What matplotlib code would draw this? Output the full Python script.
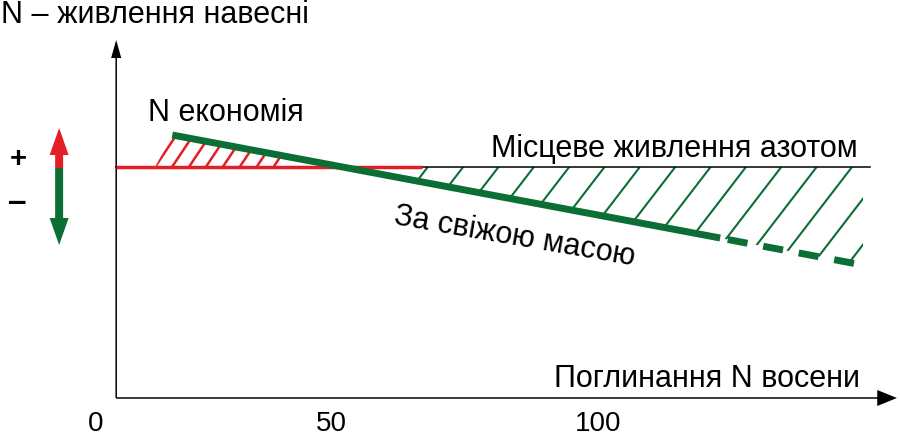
import numpy as np
import matplotlib
matplotlib.use('Agg')
import matplotlib.pyplot as plt
from matplotlib.patches import Polygon, FancyArrow

plt.rcParams['font.family'] = ['Liberation Sans', 'DejaVu Sans']

# schematic values (x: N uptake in autumn, y: N supply in spring, 0 = local supply)
fresh_x = [15.3, 123.8, 125.3, 150.9]      # "За свіжою масою" line
fresh_y = [3.2, -7.1, -7.25, -9.7]
local_x = [4.2, 153.5]                     # "Місцеве живлення азотом"
local_y = [0.0, 0.0]
red_end = 64.75                            # end of the red part of the local line
tick_labels = ['0', '50', '100']
tick_pos = [0.1, 46.9, 99.6]

GREEN = '#0b6e35'
RED = '#e31e24'


def main():
    fig = plt.figure(figsize=(9, 4.37), dpi=100)
    ax = fig.add_axes([0, 0, 1, 1])
    ax.set_xlim(-18.81, 159.41)
    ax.set_ylim(-27.0, 16.7)
    ax.axis('off')

    # axes arrows
    x0, y0 = local_x[0], -23.1
    ax.add_patch(FancyArrow(x0, y0, 0, 35.8, width=0.3, head_width=2.0,
                            head_length=1.8, length_includes_head=True,
                            color='black', lw=0))
    ax.add_patch(FancyArrow(x0, y0, 154.6, 0, width=0.15, head_width=1.6,
                            head_length=3.9, length_includes_head=True,
                            color='black', lw=0))

    # crossing of the fresh-mass line with the local line
    slope = (fresh_y[1] - fresh_y[0]) / (fresh_x[1] - fresh_x[0])
    x_cross = fresh_x[0] - fresh_y[0] / slope

    # red hatching (N economy)
    red_clip = Polygon([(11.9, 0), (x_cross, 0), (fresh_x[0], fresh_y[0])],
                       closed=True, transform=ax.transData)
    s_red = 0.7575
    for b in np.arange(11.9, 36.0, 3.35):
        ln, = ax.plot([b, b + 8], [0, 8 * s_red], color=RED, lw=1.8,
                      solid_capstyle='butt', zorder=2)
        ln.set_clip_path(red_clip)

    # green hatching
    x_r = 152.1
    y_r = fresh_y[0] + slope * (x_r - fresh_x[0])
    green_clip = Polygon([(x_cross, 0), (x_r, 0), (x_r, y_r)],
                         closed=True, transform=ax.transData)
    s_gr = 0.657
    for t in np.arange(65.9, 175.0, 7.0):
        ln, = ax.plot([t - 30, t], [-30 * s_gr, 0], color=GREEN, lw=1.5,
                      solid_capstyle='butt', zorder=2)
        ln.set_clip_path(green_clip)

    # local supply line
    ax.plot(local_x, local_y, color='black', lw=1.1, zorder=3)
    ax.plot([local_x[0], red_end], local_y, color=RED, lw=2.5,
            solid_capstyle='butt', zorder=4)

    # fresh mass line
    ax.plot(fresh_x[:2], fresh_y[:2], color=GREEN, lw=5,
            solid_capstyle='butt', zorder=5)
    ax.plot(fresh_x[2:], fresh_y[2:], color=GREEN, lw=5,
            linestyle=(0, (2.9, 2.3)), dash_capstyle='butt', zorder=5)

    # +/- double arrow
    ax.add_patch(FancyArrow(-7.1, -0.1, 0, 4.0, width=1.58, head_width=3.76,
                            head_length=2.7, length_includes_head=True,
                            color=RED, lw=0))
    ax.add_patch(FancyArrow(-7.1, -0.1, 0, -7.7, width=1.58, head_width=3.76,
                            head_length=2.7, length_includes_head=True,
                            color=GREEN, lw=0))
    ax.text(-15.25, 0.8, '+', fontsize=21, fontweight='bold',
            ha='center', va='center')
    ax.text(-15.35, -3.5, '\u2013', fontsize=24, fontweight='bold',
            ha='center', va='center')

    # texts
    fs = 22
    ax.text(-18.6, 14.4, 'N \u2013 живлення навесні', fontsize=fs,
            ha='left', va='baseline')
    ax.text(10.5, 4.6, 'N економія', fontsize=fs, ha='left', va='baseline')
    ax.text(151.1, 1.0, 'Місцеве живлення азотом', fontsize=fs,
            ha='right', va='baseline')
    ax.text(151.5, -22.0, 'Поглинання N восени', fontsize=fs,
            ha='right', va='baseline')
    ax.text(83.0, -7.0, 'За свіжою масою', fontsize=fs, rotation=-9.8,
            rotation_mode='anchor', ha='center', va='center')
    for p, lab in zip(tick_pos, tick_labels):
        ax.text(p, -26.4, lab, fontsize=20, ha='center', va='baseline')

    fig.savefig('out.png', dpi=100)


if __name__ == "__main__":
    main()
